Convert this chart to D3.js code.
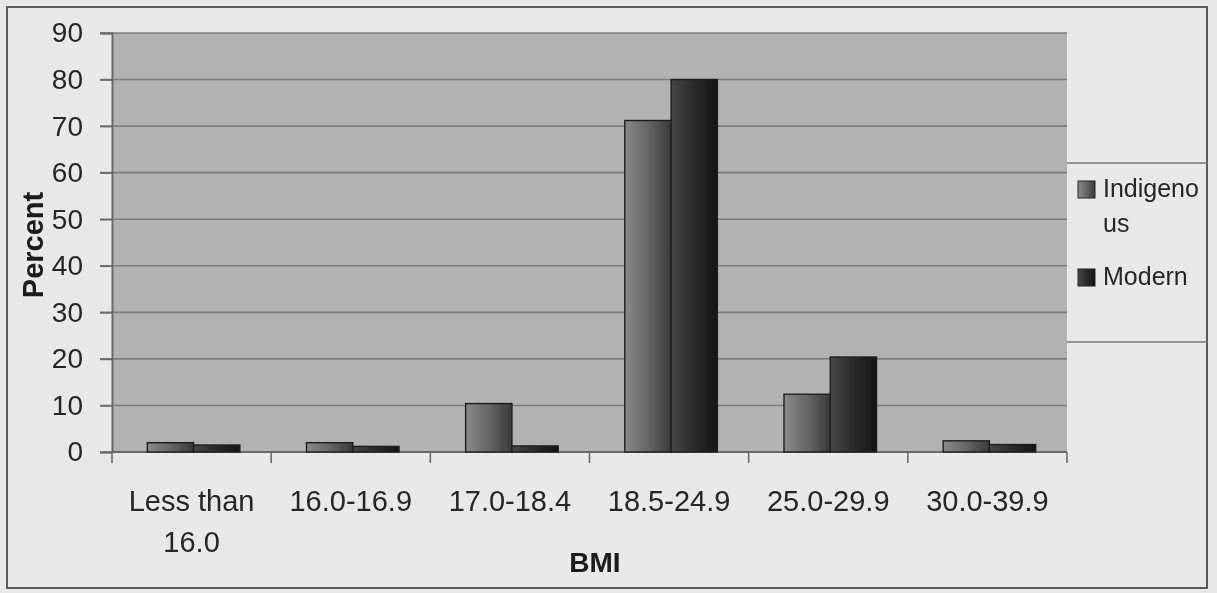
<!DOCTYPE html>
<html>
<head>
<meta charset="utf-8">
<script src="https://cdn.jsdelivr.net/npm/d3@7"></script>
<style>
  html, body { margin: 0; padding: 0; background: #e8e8e8; }
  svg { display: block; font-family: "Liberation Sans", Arial, sans-serif; }
</style>
</head>
<body>
<svg id="chart" width="1217" height="593"></svg>
<script>
// BMI distribution by group (percent)
const categories = ["Less than 16.0", "16.0-16.9", "17.0-18.4", "18.5-24.9", "25.0-29.9", "30.0-39.9"];
const seriesNames = ["Indigenous", "Modern"];
const indigenous = [2.0, 2.0, 10.4, 71.2, 12.4, 2.4];
const modern = [1.5, 1.2, 1.3, 80.0, 20.4, 1.6];
const yTicks = [0, 10, 20, 30, 40, 50, 60, 70, 80, 90];

const rows = categories.map((c, i) => ({ cat: c, Indigenous: indigenous[i], Modern: modern[i] }));

const svg = d3.select("#chart");
const W = 1217, H = 593;
const plot = { left: 112, top: 33, right: 1067, bottom: 452 };

const defs = svg.append("defs");
const blur = defs.append("filter").attr("id", "soft").attr("x", "-2%").attr("y", "-2%").attr("width", "104%").attr("height", "104%");
blur.append("feGaussianBlur").attr("stdDeviation", 0.6);

// cylinder-like shading for each series
const gradStops = {
  Indigenous: [["0%", "#8a8a8a"], ["55%", "#626262"], ["100%", "#393939"]],
  Modern: [["0%", "#474747"], ["50%", "#2a2a2a"], ["100%", "#151515"]]
};
Object.entries(gradStops).forEach(([k, stops]) => {
  const g = defs.append("linearGradient").attr("id", "g-" + k).attr("x1", "0").attr("x2", "1").attr("y1", "0").attr("y2", "0");
  stops.forEach(([o, c]) => g.append("stop").attr("offset", o).attr("stop-color", c));
});

const root = svg.append("g").attr("filter", "url(#soft)");

root.append("rect").attr("x", 0).attr("y", 0).attr("width", W).attr("height", H).attr("fill", "#e8e8e8");
root.append("rect").attr("x", 7).attr("y", 7).attr("width", 1200).attr("height", 581)
  .attr("fill", "#e9e9e9").attr("stroke", "#5a5a5a").attr("stroke-width", 2);

const x = d3.scaleBand().domain(categories).range([plot.left, plot.right]).paddingInner(0).paddingOuter(0);
const x1 = d3.scaleBand().domain(seriesNames).range([0, x.bandwidth()]).paddingInner(0).paddingOuter(0.72);
const y = d3.scaleLinear().domain([0, 90]).range([plot.bottom, plot.top]);

// plot area
root.append("rect").attr("x", plot.left).attr("y", plot.top)
  .attr("width", plot.right - plot.left).attr("height", plot.bottom - plot.top)
  .attr("fill", "#b2b2b2");

// gridlines with tick stubs on the left
root.append("g").selectAll("line").data(yTicks).join("line")
  .attr("x1", plot.left - 12).attr("x2", plot.right)
  .attr("y1", d => y(d)).attr("y2", d => y(d))
  .attr("stroke", "#7c7c7c").attr("stroke-width", 1.6);

// y axis
const yAxis = root.append("g").attr("transform", `translate(${plot.left},0)`)
  .call(d3.axisLeft(y).tickValues(yTicks).tickSize(12).tickPadding(17));
yAxis.select(".domain").attr("stroke", "#6a6a6a").attr("stroke-width", 2);
yAxis.selectAll(".tick line").attr("stroke", "#6a6a6a").attr("stroke-width", 1.6);
yAxis.selectAll(".tick text").attr("font-size", 28).attr("fill", "#262626")
  .attr("font-family", "Liberation Sans, Arial, sans-serif");

// x axis: ticks at category boundaries
const xAxisG = root.append("g");
xAxisG.append("line").attr("x1", plot.left).attr("x2", plot.right)
  .attr("y1", plot.bottom).attr("y2", plot.bottom).attr("stroke", "#6a6a6a").attr("stroke-width", 2);
const boundaries = categories.map(c => x(c)).concat([x(categories[categories.length - 1]) + x.bandwidth()]);
xAxisG.selectAll("line.tk").data(boundaries).join("line").attr("class", "tk")
  .attr("x1", d => d).attr("x2", d => d)
  .attr("y1", plot.bottom).attr("y2", plot.bottom + 11)
  .attr("stroke", "#6a6a6a").attr("stroke-width", 1.6);

// category labels (wrapped)
const labelLines = { "Less than 16.0": ["Less than", "16.0"] };
const lab = xAxisG.selectAll("text.cat").data(categories).join("text").attr("class", "cat")
  .attr("text-anchor", "middle").attr("font-size", 29).attr("fill", "#262626")
  .attr("x", d => x(d) + x.bandwidth() / 2).attr("y", 511);
lab.each(function (d) {
  const lines = labelLines[d] || [d];
  d3.select(this).selectAll("tspan").data(lines).join("tspan")
    .attr("x", x(d) + x.bandwidth() / 2)
    .attr("dy", (l, i) => i === 0 ? 0 : 41)
    .text(l => l);
});

// bars
const groups = root.append("g").selectAll("g").data(rows).join("g")
  .attr("transform", d => `translate(${x(d.cat)},0)`);
groups.selectAll("rect").data(d => seriesNames.map(k => ({ key: k, value: d[k] }))).join("rect")
  .attr("x", d => x1(d.key) + 2)
  .attr("width", x1.bandwidth())
  .attr("y", d => y(d.value))
  .attr("height", d => y(0) - y(d.value))
  .attr("fill", d => `url(#g-${d.key})`)
  .attr("stroke", "#1e1e1e").attr("stroke-width", 1.4);

// axis titles
root.append("text").attr("x", 595).attr("y", 572).attr("text-anchor", "middle")
  .attr("font-size", 28).attr("font-weight", "bold").attr("fill", "#1a1a1a").text("BMI");
root.append("text").attr("transform", "translate(43,245) rotate(-90)").attr("text-anchor", "middle")
  .attr("font-size", 29).attr("font-weight", "bold").attr("fill", "#1a1a1a").text("Percent");

// legend
const lg = root.append("g");
[163, 342].forEach(yy => lg.append("line").attr("x1", plot.right).attr("x2", 1207)
  .attr("y1", yy).attr("y2", yy).attr("stroke", "#7a7a7a").attr("stroke-width", 1.6));
const legendItems = [
  { key: "Indigenous", lines: ["Indigeno", "us"], y: 181 },
  { key: "Modern", lines: ["Modern"], y: 269 }
];
legendItems.forEach(it => {
  lg.append("rect").attr("x", 1078).attr("y", it.y).attr("width", 17).attr("height", 17)
    .attr("fill", `url(#g-${it.key})`).attr("stroke", "#222").attr("stroke-width", 1);
  const t = lg.append("text").attr("x", 1103).attr("y", it.y + 16).attr("font-size", 25).attr("fill", "#262626");
  it.lines.forEach((l, i) => t.append("tspan").attr("x", 1103).attr("dy", i === 0 ? 0 : 35).text(l));
});
</script>
</body>
</html>
